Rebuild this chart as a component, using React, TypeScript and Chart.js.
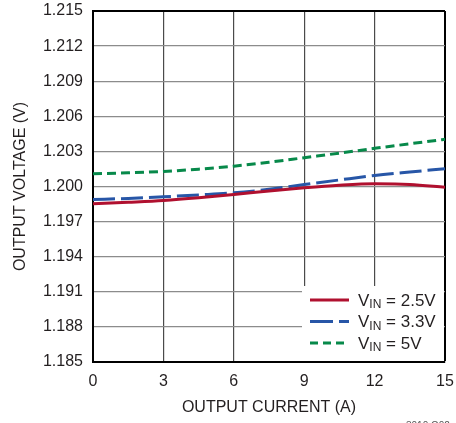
import React, { useEffect, useRef } from "react";
import { Chart, registerables } from "chart.js";

Chart.register(...registerables);

const currents = [0, 1.5, 3, 4.5, 6, 7.5, 9, 10.5, 12, 13.5, 15];
const vin25 = [1.19852, 1.19865, 1.1988, 1.19903, 1.19931, 1.19962, 1.19989, 1.20011, 1.20023, 1.20018, 1.19994];
const vin33 = [1.19889, 1.19898, 1.19912, 1.19928, 1.19946, 1.19976, 1.20017, 1.20056, 1.20094, 1.20124, 1.20152];
const vin5 = [1.20109, 1.20117, 1.20129, 1.20148, 1.20174, 1.20207, 1.20246, 1.20285, 1.20326, 1.20365, 1.20403];

const seriesLabels = ["2.5V", "3.3V", "5V"];
const seriesColors = ["#b0102f", "#2756a7", "#07894a"];
const seriesDashes: number[][] = [[], [22, 6], [9, 5]];
const legendDashes: number[][] = [[], [23, 6], [8, 5]];

const xTitle = "OUTPUT CURRENT (A)";
const yTitle = "OUTPUT VOLTAGE (V)";
const footer = "3010 G02";

const FONT = "'Liberation Sans', Arial, sans-serif";
const TEXT = "#231f20";

export default function App() {
  const ref = useRef<HTMLCanvasElement | null>(null);

  useEffect(() => {
    document.body.style.margin = "0";
    const canvas = ref.current;
    if (!canvas) return;

    const makeData = (vals: number[]) => currents.map((x, i) => ({ x, y: vals[i] }));
    const all = [vin25, vin33, vin5];

    const legendPlugin = {
      id: "customLegend",
      afterDatasetsDraw(chart: any) {
        const ctx = chart.ctx as CanvasRenderingContext2D;
        const area = chart.chartArea;
        ctx.save();
        ctx.fillStyle = "#ffffff";
        ctx.fillRect(302, 286, area.right - 1 - 302, area.bottom - 1 - 286);
        const rows = [300, 321.5, 343];
        for (let i = 0; i < 3; i++) {
          const y = rows[i];
          ctx.strokeStyle = seriesColors[i];
          ctx.lineWidth = 3;
          ctx.setLineDash(legendDashes[i]);
          ctx.beginPath();
          ctx.moveTo(310, y);
          ctx.lineTo(349, y);
          ctx.stroke();
          ctx.setLineDash([]);
          ctx.fillStyle = TEXT;
          ctx.textBaseline = "middle";
          ctx.textAlign = "left";
          ctx.font = `17px ${FONT}`;
          let x = 358;
          ctx.fillText("V", x, y + 1);
          x += ctx.measureText("V").width;
          ctx.font = `12px ${FONT}`;
          ctx.fillText("IN", x, y + 5);
          x += ctx.measureText("IN").width;
          ctx.font = `17px ${FONT}`;
          ctx.fillText(" = " + seriesLabels[i], x, y + 1);
        }
        ctx.font = `10px ${FONT}`;
        ctx.fillStyle = "#555";
        ctx.textBaseline = "top";
        ctx.textAlign = "left";
        ctx.fillText(footer, 406, 421);
        ctx.restore();
      },
    };

    const zeroPad = (scale: any) => {
      scale.paddingTop = 0;
      scale.paddingBottom = 0;
      scale.paddingLeft = 0;
      scale.paddingRight = 0;
    };

    const chart = new Chart(canvas, {
      type: "line",
      data: {
        datasets: all.map((vals, i) => ({
          label: seriesLabels[i],
          data: makeData(vals),
          borderColor: seriesColors[i],
          backgroundColor: seriesColors[i],
          borderWidth: 3,
          borderDash: seriesDashes[i],
          pointRadius: 0,
          cubicInterpolationMode: "monotone" as const,
          fill: false,
        })),
      },
      options: {
        responsive: false,
        animation: false,
        layout: { padding: { left: 0, top: 11, right: 11, bottom: 0 } },
        plugins: {
          legend: { display: false },
          tooltip: { enabled: false },
        },
        scales: {
          x: {
            type: "linear",
            min: 0,
            max: 15,
            afterFit(scale: any) {
              scale.height = 61;
              zeroPad(scale);
            },
            ticks: {
              stepSize: 3,
              color: TEXT,
              padding: 10,
              maxRotation: 0,
              font: { family: FONT, size: 16 },
            },
            grid: {
              drawTicks: false,
              color: (c: any) => (c.tick && c.tick.value === 15 ? "#000" : "#4a4a4a"),
              lineWidth: (c: any) => (c.tick && c.tick.value === 15 ? 2 : 1.2),
            },
            border: { display: true, color: "#000", width: 2 },
            title: {
              display: true,
              text: xTitle,
              color: TEXT,
              font: { family: FONT, size: 16, lineHeight: 1.2 },
              padding: { top: 0, bottom: 6 },
            },
          },
          y: {
            type: "linear",
            min: 1.185,
            max: 1.215,
            afterFit(scale: any) {
              scale.width = 93;
              zeroPad(scale);
            },
            ticks: {
              stepSize: 0.003,
              color: TEXT,
              padding: 10,
              font: { family: FONT, size: 16 },
              callback: (v: any) => Number(v).toFixed(3),
            },
            grid: {
              drawTicks: false,
              color: (c: any) =>
                c.tick && Math.abs(c.tick.value - 1.215) < 1e-6 ? "#000" : "#8c8c8c",
              lineWidth: (c: any) =>
                c.tick && Math.abs(c.tick.value - 1.215) < 1e-6 ? 2 : 1.2,
            },
            border: { display: true, color: "#000", width: 2 },
            title: {
              display: true,
              text: yTitle,
              color: TEXT,
              font: { family: FONT, size: 16, lineHeight: 1.2 },
              padding: { top: 11, bottom: 0 },
            },
          },
        },
      },
      plugins: [legendPlugin],
    });

    return () => chart.destroy();
  }, []);

  return (
    <div style={{ position: "fixed", left: 0, top: 0, width: 456, height: 423, background: "#fff" }}>
      <canvas ref={ref} width={456} height={423} style={{ width: 456, height: 423, display: "block" }} />
    </div>
  );
}
